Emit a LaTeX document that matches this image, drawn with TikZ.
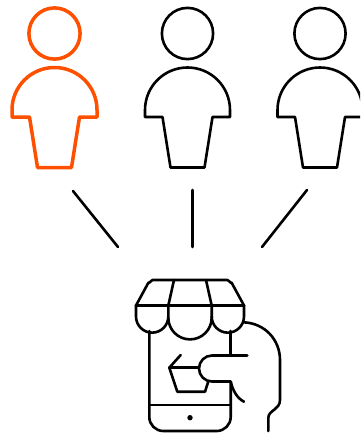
\documentclass[tikz,border=0pt]{standalone}
\usepackage{xcolor}
\definecolor{personorange}{HTML}{FF5000}
\tikzset{
  person/.pic={
    \draw (0,33.5) circle (25.6);
    \draw (-42.5,117) -- (-42.5,110) arc[start angle=180,end angle=360,radius=42.5] -- (42.5,117) -- (25,117) -- (17,167.5) -- (-17,167.5) -- (-25,117) -- cycle;
  }
}
\begin{document}
\begin{tikzpicture}[x=1pt,y=-1pt,line cap=round,line join=round,line width=2.6pt]
\useasboundingbox (0,0) rectangle (360,436);
\clip (0,0) rectangle (360,436);
\pic[personorange,line width=3.5pt] at (54.5,0) {person};
\pic at (187.5,0) {person};
\pic at (320,0) {person};
% lines from the people to the shop
\draw (73,191) -- (118,247);
\draw (192.5,190) -- (192.5,247);
\draw (307,190) -- (262,247);
% awning
\draw (136,305.5) -- (148.5,282.5) to[out=-60,in=180] (152.5,280) -- (227.5,280) to[out=0,in=-120] (231.5,282.5) -- (244,305.5);
\draw[line width=3pt] (136,305.5) -- (244,305.5);
\draw (174,280) -- (168.3,305.5);
\draw (206,280) -- (211.7,305.5);
\draw (136,305.5) -- (136,316.5) arc[start angle=180,end angle=0,radius=16.15] -- (168.3,305.5);
\draw (168.3,317.7) arc[start angle=180,end angle=0,radius=21.7] -- (211.7,305.5);
\draw (211.7,316.5) arc[start angle=180,end angle=0,radius=16.15] -- (244,305.5);
% phone
\draw (149.3,331) -- (149.3,417) arc[start angle=180,end angle=90,radius=14] -- (216.7,431) arc[start angle=90,end angle=0,radius=14] -- (230.7,381.5);
\draw (230.7,331) -- (230.7,355.5);
\draw (149.3,405) -- (230.7,405);
\fill (190,417.7) circle (2.7);
% basket
\draw (180.7,355) -- (169.3,367.7) -- (177.3,391.7) -- (205,391.7) -- (208.3,381.5);
\draw (169.3,367.7) -- (198.3,367.7);
% hand
\draw (247.3,355.5) -- (212,355.5) arc[start angle=270,end angle=90,radius=13] -- (230.7,381.5);
\draw (230.7,381.5) .. controls (233,391) and (237,398) .. (244,401.7);
\draw (243.3,322.3) .. controls (265,323) and (280,340) .. (280,360) -- (280,400) .. controls (280,410) and (268.3,410) .. (268.3,418) -- (268.3,431);
\end{tikzpicture}
\end{document}
